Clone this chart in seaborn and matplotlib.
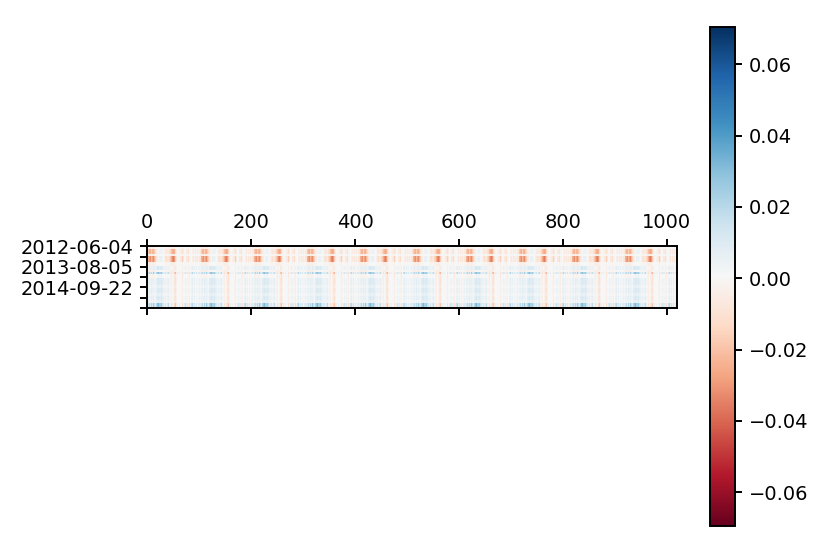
import numpy as np
import pandas as pd
import matplotlib
matplotlib.use('Agg')
import matplotlib.pyplot as plt
import seaborn as sns

# one repeating block of the picture, in thousandths, one entry per 2 columns
pale = [-2, -3, -4, -4, -3, -4, -4, -3, -2, -1, -1, 0, 1, 1, 1, 0, -1, -1, -2, -1, -1, -2, -3, -4, -4, -4,
        -4, -2, -1, 0, 0, 0, -1, -1, -2, -1, 0, 0, -1, -2, 0, 0, 0, -1, -1, 0, -1, 0, -1, 0, -1]
top = [-8, -18, -22, -24, -16, -22, -24, -18, -12, -6, -4, 2, 4, 5, 3, 1, -3, -6, -8, -6, -5, -10, -14, -20, -24, -26,
       -24, -14, -6, -1, 0, -2, -4, -6, -12, -6, 0, 2, -5, -9, -2, 2, 1, -3, -5, -2, -6, -3, -5, -2, -6]
upper = [-10, -24, -28, -32, -22, -28, -32, -24, -16, -8, -5, 2, 5, 5, 3, 1, -4, -8, -12, -8, -7, -14, -18, -26, -32, -36,
         -30, -18, -8, -2, 0, -3, -5, -8, -16, -8, 0, 2, -7, -12, -3, 2, 1, -4, -7, -3, -8, -4, -7, -3, -8]
light_blue = [3, 6, 8, 5, 7, 4, 9, 6, 4, 9, 11, 13, 10, 12, 8, 6, 4, 6, 3, 5, 7, 3, -1, -3, 2, -2,
              -5, -7, -2, 2, 1, 2, 1, 0, -4, 0, 3, 5, 3, -2, -4, 2, 6, 8, 3, 6, 3, 5, 0, 4, 5]
stripe = [8, 14, 20, 12, 18, 10, 24, 14, 8, 20, 26, 30, 22, 26, 16, 10, 8, 14, 6, 12, 18, 6, -4, -10, 4, -6,
          -18, -22, -6, 6, 3, 5, 2, 0, -12, -2, 8, 12, 8, -6, -12, 4, 14, 20, 8, 14, 6, 12, -2, 10, 12]
pink = [-1, -2, -3, -2, -1, -3, -2, -1, 0, 1, 2, 4, 3, 4, 2, 1, 0, 1, 1, 2, 1, 0, -2, -4, -1, -3,
        -6, -9, -3, 0, 0, 0, 0, -1, -5, -1, 1, 2, 1, -2, -4, 0, 2, 3, 1, 2, 1, 1, -1, 1, 1]
blue = [3, 5, 6, 4, 8, 5, 6, 4, 3, 8, 10, 12, 9, 11, 8, 6, 4, 5, 3, 5, 7, 3, -2, -4, 1, -3,
        -8, -10, -4, 1, 0, 1, 0, -1, -4, -1, 2, 4, 3, -2, -4, 1, 5, 7, 3, 5, 2, 4, -1, 3, 5]
blue_soft = [2, 3, 4, 2, 5, 3, 4, 3, 2, 5, 6, 7, 5, 7, 5, 4, 2, 3, 2, 3, 4, 2, -1, -3, 1, -2,
             -5, -7, -2, 1, 0, 1, 0, -1, -3, 0, 1, 2, 2, -1, -3, 1, 3, 4, 2, 3, 1, 2, -1, 2, 3]
bottom = [8, 14, 19, 11, 21, 13, 26, 16, 10, 21, 27, 32, 22, 26, 16, 11, 8, 13, 6, 11, 18, 6, -3, -10, 5, -6,
          -14, -19, -6, 6, 3, 5, 2, 0, -11, -2, 10, 14, 10, -6, -13, 5, 16, 21, 8, 14, 6, 11, -2, 10, 11]

band_values = [pale, top, pale, upper, pale, light_blue, pale, stripe, pink,
               blue, blue_soft, blue, blue_soft, blue, blue_soft, bottom]
band_rows = [5, 10, 5, 12, 7, 8, 4, 4, 8, 12, 6, 10, 6, 8, 6, 9]

x_ticks = [0, 200, 400, 600, 800, 1000]
y_ticks = [0, 20, 40, 60, 80, 100, 120]
y_labels = ['2012-06-04', '', '2013-08-05', '', '2014-09-22', '', '']
cbar_ticks = [-0.06, -0.04, -0.02, 0.0, 0.02, 0.04, 0.06]

bands = np.array(band_values) / 1000
block = np.repeat(np.repeat(bands, band_rows, axis=0), 2, axis=1)
df = pd.DataFrame(np.tile(block, (1, 10)))

fig = plt.figure(figsize=(830 / 140, 554 / 140), dpi=140)
W, H = 830, 554
ax = fig.add_axes([147 / W, 1 - 308 / H, 530 / W, 62 / H])
cax = fig.add_axes([710 / W, 1 - 526 / H, 25 / W, 499 / H])

sns.heatmap(df, ax=ax, cbar_ax=cax, cmap='RdBu', vmin=-0.0695, vmax=0.0705,
            xticklabels=False, yticklabels=False)

ax.set_xticks(np.array(x_ticks) + 0.5)
ax.set_xticklabels(x_ticks, rotation=0)
ax.set_yticks(np.array(y_ticks) + 0.5)
ax.set_yticklabels(y_labels, rotation=0)
ax.tick_params(top=True, labeltop=True, bottom=True, labelbottom=False, left=True, length=3.5, width=1)
for s in ax.spines.values():
    s.set_visible(True)
    s.set_linewidth(1)

cbar = ax.collections[0].colorbar
cbar.set_ticks(cbar_ticks)
cbar.ax.tick_params(length=3.5, width=1)
cbar.outline.set_visible(True)
cbar.outline.set_linewidth(1)

fig.savefig('out.png', dpi=140)
